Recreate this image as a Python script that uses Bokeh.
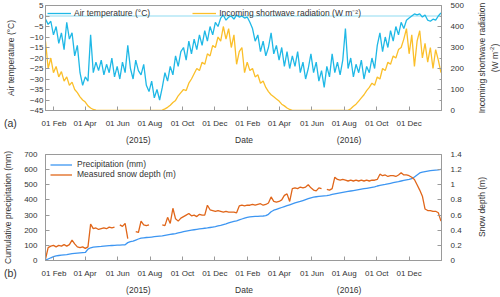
import math
import numpy as np
import pandas as pd
from bokeh.plotting import figure
from bokeh.models import Range1d, LinearAxis, FixedTicker, DatetimeTickFormatter, Span, Div
from bokeh.layouts import column
from bokeh.embed import file_html
from bokeh.resources import INLINE

nan = float("nan")

# 5-day samples from 16 Jan 2015 to 30 Jan 2017
dates = pd.date_range("2015-01-16", periods=150, freq="5D")

air_temperature = [
    # 2015
    -1.5, -4, -2.5, -9, -5, -13, -8, -16, -3, -11,
    -8, -19, -14, -27, -33, -29, -31, -9, -27, -22,
    -26, -21, -28, -23, -27, -20, -29, -24, -30, -22,
    -27, -14, -25, -30, -21, -26, -28, -23, -33, -36,
    -31, -39, -35, -40, -34, -27, -31, -24, -28, -19,
    -24, -17, -15, -21, -12, -18, -11, -16, -9, -14,
    -7, -12, -5, -9, -3, -5, -1, 0.5, -2, -0.5,
    0, -1.5, 0.5, -0.5,
    # 2016
    0, -1, -0.5, -3, -6, -12, -9, -17, -12, -19,
    -15, -8, -18, -14, -21, -15, -24, -17, -25, -19,
    -24, -17, -27, -22, -30, -25, -18, -27, -22, -31,
    -26, -34, -24, -29, -18, -27, -22, -28, -21, -6,
    -25, -20, -29, -23, -27, -21, -30, -24, -27, -20,
    -25, -14, -8, -17, -10, -15, -7, -12, -5, -9,
    -3, -6, -2, -1, 0, 1, 0.5, 1, -0.5, 0.5,
    -2, -2.5, -1.5, -2, 0, 1.5,
]

shortwave_radiation = [
    # 2015
    330, 200, 250, 180, 210, 160, 185, 140, 160, 120,
    135, 100, 85, 65, 50, 40, 22, 12, 5, 2,
    0, 0, 0, 0, 0, 0, 0, 0, 0, 0,
    0, 0, 0, 0, 0, 0, 0, 0, 0, 0,
    0, 0, 0, 0, 2, 8, 15, 25, 38, 48,
    70, 85, 100, 95, 130, 150, 175, 200, 190, 230,
    220, 270, 260, 310, 300, 350, 330, 400, 340, 390,
    300, 360, 220, 280,
    # 2016
    300, 180, 230, 190, 200, 160, 170, 130, 140, 110,
    90, 75, 65, 55, 45, 30, 22, 12, 5, 1,
    0, 0, 0, 0, 0, 0, 0, 0, 0, 0,
    0, 0, 0, 0, 0, 0, 0, 0, 0, 0,
    1, 8, 20, 30, 45, 60, 75, 95, 110, 130,
    120, 160, 150, 200, 190, 230, 220, 260, 250, 290,
    300, 340, 390, 270, 360, 210, 330, 380, 250, 320,
    230, 300, 200, 290, 240, 180,
]

cumulative_precipitation = [
    # 2015
    2, 10, 18, 25, 30, 33, 35, 37, 39, 42,
    45, 47, 49, 51, 52, 53, 75, 84, 88, 90,
    92, 93, 95, 97, 98, 99, 100, 101, 102, 103,
    104, 118, 125, 128, 135, 142, 148, 150, 152, 153,
    155, 157, 159, 161, 163, 166, 169, 172, 175, 178,
    182, 186, 190, 194, 197, 200, 203, 206, 209, 211,
    213, 215, 218, 221, 224, 228, 232, 237, 242, 248,
    254, 258, 262, 268,
    # 2016
    274, 280, 285, 288, 290, 291, 292, 293, 294, 296,
    305, 322, 332, 338, 344, 350, 356, 362, 368, 374,
    380, 385, 390, 396, 402, 408, 414, 418, 421, 423,
    425, 427, 429, 432, 436, 440, 444, 447, 450, 453,
    456, 459, 462, 465, 468, 471, 474, 477, 480, 483,
    486, 492, 496, 499, 502, 506, 510, 514, 518, 521,
    525, 529, 533, 536, 540, 552, 565, 578, 584, 587,
    590, 593, 595, 597, 599, 602,
]

snow_depth = [
    # 2015
    0.02, 0.17, 0.19, 0.2, 0.18, 0.2, 0.19, 0.21, 0.19, 0.21,
    0.27, 0.22, 0.18, 0.17, 0.18, 0.16, 0.18, 0.48, 0.42, 0.43,
    0.41, 0.42, 0.43, 0.42, 0.44, 0.43, 0.44, nan, 0.47, 0.45,
    0.49, 0.29, nan, nan, 0.38, 0.37, 0.52, 0.47, 0.46, 0.47,
    nan, 0.45, nan, nan, 0.47, 0.46, 0.57, 0.49, 0.69, 0.55,
    0.52, 0.56, 0.58, 0.6, 0.62, 0.59, 0.6, 0.58, 0.61, 0.6,
    0.6, 0.73, 0.67, 0.66, 0.65, 0.66, 0.65, 0.64, 0.65, 0.64,
    0.64, 0.64, 0.63, 0.72,
    # 2016
    0.73, 0.72, 0.73, 0.73, 0.74, 0.73, 0.74, 0.75, 0.73, 0.74,
    0.76, 0.84, 0.78, 0.77, 0.78, 0.8, 0.86, 0.88, 0.78, 0.95,
    0.96, 0.95, 0.97, 0.96, 0.97, 1.0, 0.96, 0.93, 0.92, 0.96,
    0.95, nan, 0.94, 0.93, 0.95, 1.1, 1.07, 1.06, 1.07, 1.06,
    1.05, 1.06, 1.05, 1.06, 1.05, 1.06, 1.05, 1.06, 1.05, 1.06,
    1.06, 1.07, 1.14, 1.12, 1.13, 1.11, 1.12, 1.12, 1.11, 1.13,
    1.16, 1.13, 1.13, 1.12, 1.1, 1.07, 1.0, 0.93, 0.85, 0.68,
    0.66, 0.66, 0.65, 0.65, 0.63, 0.52,
]

tick_dates = ["2015-02-01", "2015-04-01", "2015-06-01", "2015-08-01", "2015-10-01", "2015-12-01",
              "2016-02-01", "2016-04-01", "2016-06-01", "2016-08-01", "2016-10-01", "2016-12-01"]
second_row_labels = ["(2015)", "Date", "(2016)"]
second_row_dates = ["2015-07-10", "2016-01-25", "2016-08-10"]
temp_ticks = list(range(-45, 10, 5))
rad_ticks = [0, 100, 200, 300, 400, 500]
precip_ticks = [0, 100, 200, 300, 400, 500, 600, 700]
snow_ticks = [0, 0.2, 0.4, 0.6, 0.8, 1, 1.2, 1.4]
snow_tick_labels = ["0", "0.2", "0.4", "0.6", "0.8", "1", "1.2", "1.4"]

FONT = "Liberation Sans"
GREY = "#9a9a9a"
TXT = "#333333"
C_TEMP = "#1fb8e6"
C_ZERO = "#8fdcf2"
C_RAD = "#fbbf2a"
C_PREC = "#3d96f2"
C_SNOW = "#e0661a"


def ms(d):
    return pd.Timestamp(d).value // 10**6


x_start, x_end = ms("2015-01-16"), ms("2017-01-31")
fmt = "%d %b"
dt_fmt = DatetimeTickFormatter(microseconds=fmt, milliseconds=fmt, seconds=fmt, minsec=fmt, minutes=fmt,
                               hourmin=fmt, hours=fmt, days=fmt, months=fmt, years=fmt)


def style_axis(ax, standoff=2, label_standoff=5):
    ax.axis_line_color = GREY
    ax.major_tick_line_color = GREY
    ax.minor_tick_line_color = GREY
    ax.major_tick_in = 4
    ax.major_tick_out = 0
    ax.minor_tick_in = 2
    ax.minor_tick_out = 0
    ax.major_label_text_font = FONT
    ax.major_label_text_font_size = "8px"
    ax.major_label_text_color = TXT
    ax.major_label_standoff = standoff
    ax.axis_label_text_font = FONT
    ax.axis_label_text_font_size = "8.5px"
    ax.axis_label_text_font_style = "normal"
    ax.axis_label_text_color = TXT
    ax.axis_label_standoff = label_standoff


def base_fig(height, y0, y1, top):
    p = figure(width=500, height=height, x_axis_type="datetime",
               x_range=Range1d(x_start, x_end), y_range=Range1d(y0, y1),
               output_backend="svg", toolbar_location=None,
               min_border_left=43, min_border_right=59, min_border_top=top, min_border_bottom=36,
               outline_line_color=GREY, background_fill_color="white", border_fill_color="white")
    p.grid.visible = False
    p.xaxis.ticker = FixedTicker(ticks=[ms(d) for d in tick_dates])
    p.xaxis.formatter = dt_fmt
    style_axis(p.xaxis[0], standoff=8)
    # second row below the date ticks: years and the axis title
    row_ticks = [ms(d) for d in second_row_dates]
    ax2 = LinearAxis(ticker=FixedTicker(ticks=row_ticks),
                     major_label_overrides={t: s for t, s in zip(row_ticks, second_row_labels)})
    style_axis(ax2, standoff=4)
    ax2.axis_line_color = None
    ax2.major_tick_line_color = None
    ax2.minor_tick_line_color = None
    ax2.major_label_text_font_size = "8.5px"
    p.add_layout(ax2, "below")
    return p


def panel_tag(text, top):
    return Div(text=text, width=20, height=14,
               styles={"position": "absolute", "left": "4px", "top": f"{top}px",
                       "font-family": FONT, "font-size": "10.5px", "color": TXT,
                       "line-height": "14px", "margin": "0", "padding": "0"})


def side_title(html, cx, cy, w, h):
    # vertical axis title reading bottom-to-top, centred at (cx, cy)
    return Div(text=html, width=w, height=h,
               styles={"position": "absolute", "left": f"{cx - w / 2}px", "top": f"{cy - h / 2}px",
                       "transform": "rotate(-90deg)", "transform-origin": "50% 50%",
                       "font-family": FONT, "font-size": "8.5px", "color": TXT, "text-align": "center",
                       "line-height": "10px", "margin": "0", "padding": "0", "white-space": "nowrap"})


# ---------- panel (a)
p1 = base_fig(147, -45, 5, 5)
p1.yaxis.ticker = FixedTicker(ticks=temp_ticks)
p1.yaxis.axis_label = "Air temperature (°C)"
style_axis(p1.yaxis[0], standoff=2, label_standoff=11)
p1.extra_y_ranges = {"rad": Range1d(0, 500)}
ax_r = LinearAxis(y_range_name="rad", ticker=FixedTicker(ticks=rad_ticks, minor_ticks=[50, 150, 250, 350, 450]))
style_axis(ax_r, standoff=9, label_standoff=14)
p1.add_layout(ax_r, "right")
p1.add_layout(Span(location=0, dimension="width", line_color=C_ZERO, line_width=1.2, level="underlay"))
p1.line(dates, air_temperature, line_color=C_TEMP, line_width=1.3, legend_label="Air temperature (°C)")
p1.line(dates, shortwave_radiation, y_range_name="rad", line_color=C_RAD, line_width=1.3,
        legend_label="Incoming shortwave radiation (W m\u207b\u00b2)")
lg = p1.legend[0]
lg.location = "top_left"
lg.orientation = "horizontal"
lg.border_line_color = None
lg.background_fill_alpha = 0
lg.label_text_font = FONT
lg.label_text_font_size = "8.5px"
lg.label_text_color = TXT
lg.glyph_width = 24
lg.glyph_height = 8
lg.label_height = 8
lg.label_standoff = 3
lg.spacing = 42
lg.padding = 0
lg.margin = 2

# ---------- panel (b)
p2 = base_fig(150, 0, 700, 7)
p2.yaxis.ticker = FixedTicker(ticks=precip_ticks)
p2.yaxis.axis_label = "Cumulative precipitation (mm)"
style_axis(p2.yaxis[0], standoff=8, label_standoff=8)
p2.extra_y_ranges = {"snow": Range1d(0, 1.4)}
ax_s = LinearAxis(y_range_name="snow", ticker=FixedTicker(ticks=snow_ticks),
                  major_label_overrides={t: s for t, s in zip(snow_ticks, snow_tick_labels)})
style_axis(ax_s, standoff=9, label_standoff=17)
p2.add_layout(ax_s, "right")
p2.line(dates, cumulative_precipitation, line_color=C_PREC, line_width=1.3, legend_label="Precipitation (mm)")
p2.line(dates, snow_depth, y_range_name="snow", line_color=C_SNOW, line_width=1.3,
        legend_label="Measured snow depth (m)")
lg2 = p2.legend[0]
lg2.location = "top_left"
lg2.orientation = "vertical"
lg2.border_line_color = None
lg2.background_fill_alpha = 0
lg2.label_text_font = FONT
lg2.label_text_font_size = "8.5px"
lg2.label_text_color = TXT
lg2.glyph_width = 22
lg2.glyph_height = 9
lg2.label_height = 9
lg2.label_standoff = 5
lg2.spacing = 0
lg2.padding = 0
lg2.margin = 5

layout = column(
    p1, p2,
    panel_tag("(a)", 116), panel_tag("(b)", 266),
    side_title("Incoming shortwave radiation<br>(W m<sup style='font-size:6px'>-2</sup>)", 488, 58, 124, 22),
    side_title("Snow depth (m)", 483, 207, 80, 12),
    spacing=0)
open("out.html", "w").write(file_html(layout, INLINE))
